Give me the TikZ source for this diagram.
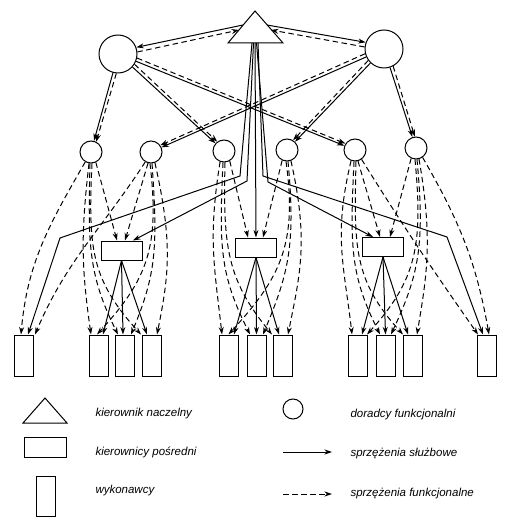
\documentclass[tikz,border=0pt]{standalone}
\usepackage{fontspec}
\setmainfont{Liberation Sans}
\usetikzlibrary{arrows.meta}
\begin{document}
\begin{tikzpicture}[x=1pt,y=-1pt,
  line width=1pt,
  sol/.style={-{Stealth[length=7.5pt,width=5pt]}},
  fun/.style={-{Stealth[length=7.5pt,width=5pt]}, dash pattern=on 5.5pt off 3.5pt},
  bigc/.style={draw, circle, minimum size=38pt, inner sep=0pt, fill=white},
  smc/.style={draw, circle, minimum size=22pt, inner sep=0pt, fill=white},
  midbox/.style={draw, rectangle, minimum width=41pt, minimum height=19pt, inner sep=0pt, fill=white},
  exbox/.style={draw, rectangle, minimum width=19pt, minimum height=41pt, inner sep=0pt, fill=white},
  lab/.style={anchor=base west, font=\fontsize{11.5}{13}\selectfont\itshape, inner sep=0pt},
]
\useasboundingbox (0,0) rectangle (514,526);

% ---- triangle (chief manager)
\coordinate (Ta) at (255,11);
\coordinate (Tl) at (228,43);
\coordinate (Tr) at (283,43);
\draw[fill=white] (Ta) -- (Tl) -- (Tr) -- cycle;

% ---- nodes
\node[bigc] (L) at (118,54) {};
\node[bigc] (R) at (384,49) {};
\node[smc] (c1) at (91,152) {};
\node[smc] (c2) at (151,152) {};
\node[smc] (c3) at (224,151) {};
\node[smc] (c4) at (287,150) {};
\node[smc] (c5) at (355,150) {};
\node[smc] (c6) at (416,148) {};
\node[midbox] (r1) at (121.5,250.5) {};
\node[midbox] (r2) at (256,247.5) {};
\node[midbox] (r3) at (383,247) {};
\node[exbox] (e1) at (24,355.5) {};
\node[exbox] (e2) at (98.5,355.5) {};
\node[exbox] (e3) at (125,355.5) {};
\node[exbox] (e4) at (151.5,355.5) {};
\node[exbox] (e5) at (228.5,355.5) {};
\node[exbox] (e6) at (256.5,355.5) {};
\node[exbox] (e7) at (283,355.5) {};
\node[exbox] (e8) at (358,355.5) {};
\node[exbox] (e9) at (385.5,355.5) {};
\node[exbox] (e10) at (412.5,355.5) {};
\node[exbox] (e11) at (487,355.5) {};

% ---- triangle <-> big circles
\coordinate (TLs) at (243,25);
\coordinate (TLd) at (239,30);
\coordinate (TRs) at (267,25);
\coordinate (TRd) at (271,30);
\draw[sol] (TLs) -- (L.20);
\draw[fun] (L.6) -- (TLd);
\draw[sol] (TRs) -- (R.160);
\draw[fun] (R.174) -- (TRd);

% ---- big circles -> small circles
\draw[sol] (L.-105) -- (c1.75);
\draw[fun] (L.-95) -- (c1.63);
\draw[sol] (L.-42) -- (c3.138);
\draw[fun] (L.-32) -- (c3.126);
\draw[sol] (L.-22) -- (c5.158);
\draw[fun] (L.-12) -- (c5.146);
\draw[sol] (R.-156) -- (c2.24);
\draw[fun] (R.-166) -- (c2.36);
\draw[sol] (R.-134) -- (c4.46);
\draw[fun] (R.-144) -- (c4.58);
\draw[sol] (R.-72) -- (c6.108);
\draw[fun] (R.-62) -- (c6.96);

% ---- solid bundle from the triangle
\coordinate (Tb1) at (252,43);
\coordinate (Tb2) at (253.5,43);
\coordinate (Tb3) at (255,43);
\coordinate (Tb4) at (256.5,43);
\coordinate (Tb5) at (258,43);
\coordinate (k1) at (240,176);
\coordinate (k2) at (60,238);
\coordinate (k3) at (247,181);
\coordinate (k4) at (268,182);
\coordinate (k5) at (263,176);
\coordinate (k6) at (447,237);
\draw[sol] (Tb1) -- (k1) -- (k2) -- ([xshift=4pt]e1.north);
\draw[sol] (Tb2) -- (k3) -- ([xshift=11.5pt]r1.north);
\draw[sol] (Tb3) -- (r2.north);
\draw[sol] (Tb4) -- (k4) -- ([xshift=-10pt]r3.north);
\draw[sol] (Tb5) -- (k5) -- (k6) -- ([xshift=-4pt]e11.north);

% ---- intermediate managers -> executors
\draw[sol] (r1.south) -- ([xshift=4.5pt]e2.north);
\draw[sol] (r1.south) -- ([xshift=-2pt]e3.north);
\draw[sol] (r1.south) -- ([xshift=-4.5pt]e4.north);
\draw[sol] (r2.south) -- ([xshift=5.5pt]e5.north);
\draw[sol] (r2.south) -- (e6.north);
\draw[sol] (r2.south) -- ([xshift=-4pt]e7.north);
\draw[sol] (r3.south) -- ([xshift=4pt]e8.north);
\draw[sol] (r3.south) -- (e9.north);
\draw[sol] (r3.south) -- ([xshift=-4.5pt]e10.north);

% ---- functional links, group 1
\draw[fun] (c1.-120) to[out=-120,in=85] ([xshift=-3pt]e1.north);
\draw[fun] (c1.-100) .. controls +(-8,70) and +(-10,-70) .. ([xshift=-7.5pt]e2.north);
\draw[fun] (c1.-95) .. controls +(-2,80) and +(-30,-60) .. ([xshift=-7pt]e3.north);
\draw[fun] (c1.-85) .. controls +(-4,85) and +(-50,-55) .. ([xshift=-10.5pt]e4.north);
\draw[fun] (c1.-65) -- ([xshift=-4.5pt]r1.north);

\draw[fun] (c2.-120) to[out=-123,in=67] ([xshift=11pt]e1.north);
\draw[fun] (c2.-105) -- ([xshift=3.5pt]r1.north);
\draw[fun] (c2.-95) .. controls +(10,85) and +(50,-55) .. ([xshift=-1.5pt]e2.north);
\draw[fun] (c2.-85) .. controls +(6,85) and +(25,-60) .. ([xshift=6pt]e3.north);
\draw[fun] (c2.-70) .. controls +(18,80) and +(12,-60) .. ([xshift=5.5pt]e4.north);

% ---- functional links, group 2
\draw[fun] (c3.-110) .. controls +(-12,75) and +(-8,-70) .. ([xshift=-6.5pt]e5.north);
\draw[fun] (c3.-60) -- ([xshift=-8pt]r2.north);
\draw[fun] (c3.-95) .. controls +(-4,85) and +(-30,-60) .. ([xshift=-6.5pt]e6.north);
\draw[fun] (c3.-85) .. controls +(-2,85) and +(-45,-55) .. ([xshift=-11pt]e7.north);

\draw[fun] (c4.-115) -- ([xshift=7pt]r2.north);
\draw[fun] (c4.-95) .. controls +(12,85) and +(50,-55) .. (e5.north);
\draw[fun] (c4.-85) .. controls +(8,85) and +(25,-60) .. ([xshift=6.5pt]e6.north);
\draw[fun] (c4.-70) .. controls +(18,80) and +(12,-60) .. ([xshift=5pt]e7.north);

% ---- functional links, group 3
\draw[fun] (c5.-110) .. controls +(-18,75) and +(-8,-70) .. ([xshift=-6pt]e8.north);
\draw[fun] (c5.-75) -- ([xshift=-3pt]r3.north);
\draw[fun] (c5.-95) .. controls +(-4,85) and +(-30,-60) .. ([xshift=-5.5pt]e9.north);
\draw[fun] (c5.-85) .. controls +(-2,85) and +(-50,-55) .. ([xshift=-9.5pt]e10.north);
\draw[fun] (c5.-55) to[out=-58,in=125] ([xshift=-9pt]e11.north);

\draw[fun] (c6.-115) -- ([xshift=7pt]r3.north);
\draw[fun] (c6.-95) .. controls +(8,85) and +(50,-55) .. ([xshift=9pt]e8.north);
\draw[fun] (c6.-85) .. controls +(8,85) and +(28,-60) .. ([xshift=5.5pt]e9.north);
\draw[fun] (c6.-75) .. controls +(14,80) and +(10,-60) .. ([xshift=4.5pt]e10.north);
\draw[fun] (c6.-55) to[out=-60,in=100] ([xshift=2pt]e11.north);

% ---- legend
\coordinate (LTa) at (45,398);
\coordinate (LTl) at (23,423);
\coordinate (LTr) at (67,423);
\draw (LTa) -- (LTl) -- (LTr) -- cycle;
\node[lab] (t1) at (95,416.5) {kierownik naczelny};
\node[draw, rectangle, minimum width=42pt, minimum height=20pt, inner sep=0pt] (lg2) at (45,447) {};
\node[lab] (t2) at (95,455) {kierownicy pośredni};
\node[exbox, minimum height=40pt] (lg3) at (45.5,496) {};
\node[lab] (t3) at (95,493) {wykonawcy};
\node[smc, minimum size=20pt] (lg4) at (293,409) {};
\node[lab] (t4) at (350,417) {doradcy funkcjonalni};
\coordinate (a1) at (283,452);
\coordinate (a2) at (332,452);
\draw[sol] (a1) -- (a2);
\node[lab] (t5) at (350,456) {sprzężenia służbowe};
\coordinate (a3) at (283,494);
\coordinate (a4) at (332,494);
\draw[fun] (a3) -- (a4);
\node[lab] (t6) at (350,496.5) {sprzężenia funkcjonalne};
\end{tikzpicture}
\end{document}
